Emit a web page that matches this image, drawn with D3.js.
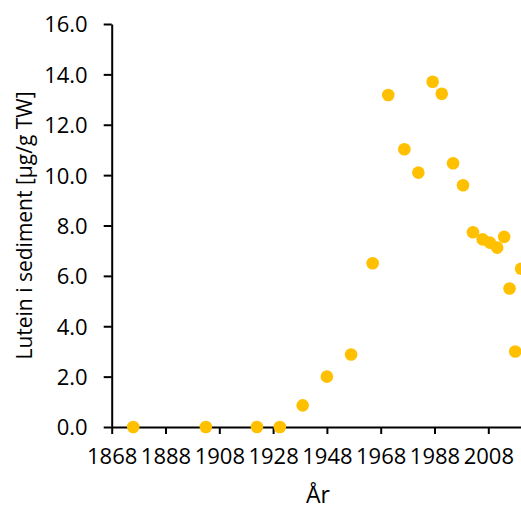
<!DOCTYPE html>
<html>
<head>
<meta charset="utf-8">
<script src="https://cdn.jsdelivr.net/npm/d3@7"></script>
<style>
  html, body { margin: 0; padding: 0; background: #fff; }
  svg { display: block; }
  .tick text { font-family: "Open Sans", sans-serif; font-size: 22px; fill: #000; }
</style>
</head>
<body>
<div id="chart"></div>
<script>
// values
let years = [1876, 1903, 1922, 1930.5, 1939, 1948, 1957, 1965, 1970.8, 1976.8, 1982, 1987.3,
    1990.7, 1994.9, 1998.6, 2002.3, 2005.9, 2008.6, 2011.3, 2013.9, 2015.9, 2018, 2020.2];
let lutein = [0, 0, 0, 0, 0.86, 2.0, 2.88, 6.5, 13.18, 11.03, 10.1, 13.71,
    13.23, 10.47, 9.6, 7.73, 7.45, 7.32, 7.12, 7.55, 5.5, 3.0, 6.28];
let xTicks = [1868, 1888, 1908, 1928, 1948, 1968, 1988, 2008];
let yTicks = [0, 2, 4, 6, 8, 10, 12, 14, 16];

let width = 521, height = 509;
let margin = { left: 111.7, top: 24, bottom: 82 };

let svg = d3.select('#chart').append('svg')
    .attr('width', width)
    .attr('height', height);

let x = d3.scaleLinear()
    .domain([1868, 2028])
    .range([margin.left, margin.left + 160 * 2.69]);
let y = d3.scaleLinear()
    .domain([0, 16])
    .range([height - margin.bottom, margin.top]);

let xAxis = svg.append('g')
    .attr('transform', 'translate(0,' + y(0) + ')')
    .call(d3.axisBottom(x).tickValues(xTicks).tickFormat(d3.format('d')).tickSize(7).tickSizeOuter(0).tickPadding(14));

let yAxis = svg.append('g')
    .attr('transform', 'translate(' + x(1868) + ',0)')
    .call(d3.axisLeft(y).tickValues(yTicks).tickFormat(d3.format('.1f')).tickSize(8).tickSizeOuter(0).tickPadding(16));

svg.selectAll('.domain, .tick line')
    .attr('stroke', '#000')
    .attr('stroke-width', 2);

yAxis.selectAll('.tick text').attr('dy', '0.36em');

svg.append('g')
    .selectAll('circle')
    .data(years)
    .enter()
    .append('circle')
        .attr('cx', function(d) { return x(d); })
        .attr('cy', function(d, i) { return y(lutein[i]); })
        .attr('r', 6.3)
        .attr('fill', '#FFC000');

svg.append('text')
    .attr('x', 318)
    .attr('y', 503)
    .attr('text-anchor', 'middle')
    .style('font-family', '"Open Sans", sans-serif')
    .style('font-size', '23px')
    .text('År');

svg.append('text')
    .attr('transform', 'translate(32,' + (y(8)) + ') rotate(-90)')
    .attr('text-anchor', 'middle')
    .style('font-family', '"Open Sans", sans-serif')
    .style('font-size', '21px')
    .text('Lutein i sediment [µg/g TW]');
</script>
</body>
</html>
